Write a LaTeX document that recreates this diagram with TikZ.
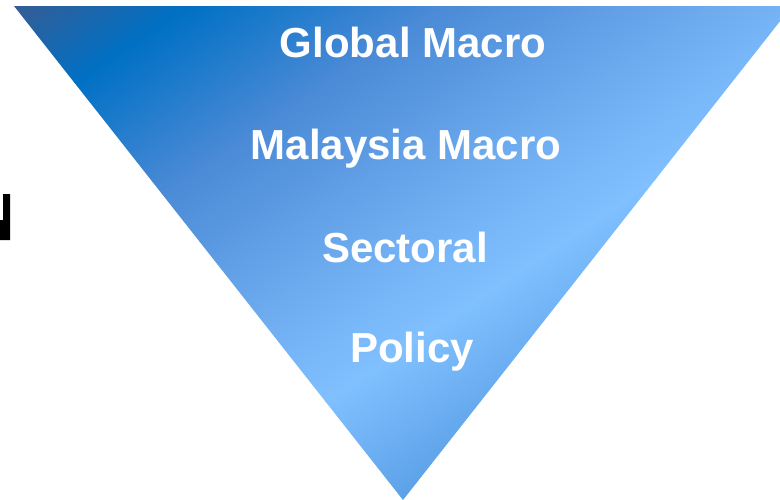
\documentclass[tikz,border=0pt]{standalone}
\usepackage{fontspec}
\setmainfont{Liberation Sans}

\definecolor{blueSlate}{HTML}{3C5A8E}
\definecolor{blueDeep}{HTML}{0070C4}
\definecolor{blueSoft}{HTML}{4A8AD6}
\definecolor{blueMid}{HTML}{6CAAEE}
\definecolor{blueLight}{HTML}{80C0FF}
\definecolor{blueTip}{HTML}{5A9FE6}

\begin{document}
\begin{tikzpicture}[x=1pt, y=-1pt,
    level/.style={text=white, font=\fontsize{42}{50}\selectfont\bfseries, anchor=base}]

    % command \band: shaded strip between t1 and t2 along the gradient axis
    \newcommand{\band}[4]{
        \shade[left color=#3, right color=#4] (#1-0.5,-900) rectangle (#2+0.5,900);
    }

    \useasboundingbox (0,0) rectangle (780,499);
    \fill[white] (0,0) rectangle (780,499);

    % -- Inverted triangle with diagonal gradient --
    \begin{scope}
        \clip (14,6) -- (792,6) -- (403,500) -- cycle;
        \begin{scope}[transform canvas={rotate=-56}]
            \fill[blueSlate] (-200,-900) rectangle (0,900);
            \band{0}{110}{blueSlate}{blueDeep}
            \band{110}{250}{blueDeep}{blueSoft}
            \band{250}{400}{blueSoft}{blueMid}
            \band{400}{515}{blueMid}{blueLight}
            \band{515}{645}{blueLight}{blueTip}
            \fill[blueTip] (645,-900) rectangle (900,900);
        \end{scope}
    \end{scope}

    % -- Levels, from top to bottom --
    \node[level] (global)   at (413,57)  {Global Macro};
    \node[level] (malaysia) at (406,159) {Malaysia Macro};
    \node[level] (sectoral) at (405,262) {Sectoral};
    \node[level] (policy)   at (412,362) {Policy};

    % cut glyph on the left border
    \fill[black] (0,220) -- (3,220) -- (3,194) -- (10,194) -- (10,240) -- (0,240) -- cycle;
\end{tikzpicture}
\end{document}
